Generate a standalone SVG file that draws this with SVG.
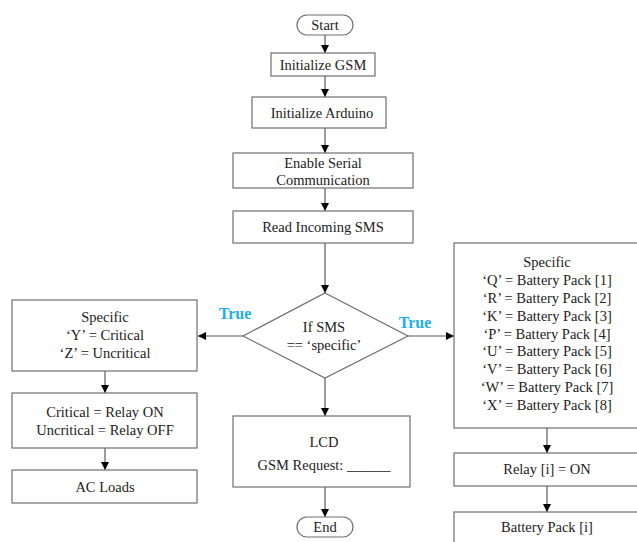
<svg xmlns="http://www.w3.org/2000/svg" width="637" height="542" viewBox="0 0 637 542">
<style>
.box{fill:#fff;stroke:#6e6e6e;stroke-width:1.2}
.t{font-family:'Liberation Serif','DejaVu Serif',serif;font-size:14.5px;fill:#222;text-anchor:middle;dominant-baseline:central}
.lbl{font-family:'Liberation Serif','DejaVu Serif',serif;font-size:16px;font-weight:bold;fill:#1AAEEF;text-anchor:middle;dominant-baseline:central}
.c{stroke:#5a5a5a;stroke-width:1.2;fill:none;marker-end:url(#ah)}
</style>
<defs>
<marker id="ah" markerWidth="10" markerHeight="10" refX="9" refY="5" orient="auto" markerUnits="userSpaceOnUse">
<path d="M1,1 L9,5 L1,9 Z" fill="#000"/>
</marker>
</defs>
<rect width="637" height="542" fill="#fff"/>
<g id="connectors">
<line class="c" x1="325" y1="35" x2="325" y2="53"/>
<line class="c" x1="325" y1="76" x2="325" y2="97"/>
<line class="c" x1="325" y1="128" x2="325" y2="153"/>
<line class="c" x1="325" y1="188" x2="325" y2="211"/>
<line class="c" x1="325" y1="243" x2="325" y2="293"/>
<line class="c" x1="243" y1="336" x2="198" y2="336"/>
<line class="c" x1="408" y1="336" x2="454" y2="336"/>
<line class="c" x1="325" y1="378" x2="325" y2="416"/>
<line class="c" x1="325" y1="487" x2="325" y2="517"/>
<line class="c" x1="105" y1="371" x2="105" y2="393"/>
<line class="c" x1="105" y1="448" x2="105" y2="470"/>
<line class="c" x1="547" y1="428" x2="547" y2="453"/>
<line class="c" x1="547" y1="486" x2="547" y2="512"/>
<text class="lbl" x="235" y="313" font-family="Liberation Serif">True</text>
<text class="lbl" x="415" y="322" font-family="Liberation Serif">True</text>
</g>
<g id="start">
<rect class="box" x="297" y="15" width="56" height="20" rx="10"/>
<text class="t" x="325" y="25">Start</text>
</g>
<g id="initGSM">
<rect class="box" x="271" y="53" width="104" height="23"/>
<text class="t" x="323" y="64.5">Initialize GSM</text>
</g>
<g id="initArduino">
<rect class="box" x="252" y="97" width="134" height="31"/>
<text class="t" x="322" y="112.5">Initialize Arduino</text>
</g>
<g id="serial">
<rect class="box" x="233" y="153" width="180" height="35"/>
<text class="t" x="323" y="163">Enable Serial</text>
<text class="t" x="323" y="180">Communication</text>
</g>
<g id="readSMS">
<rect class="box" x="233" y="211" width="180" height="32"/>
<text class="t" x="323" y="227">Read Incoming SMS</text>
</g>
<g id="decision">
<polygon class="box" points="325,293 408,336 325,378 243,336"/>
<text class="t" x="324" y="327">If SMS</text>
<text class="t" x="324" y="345">== ‘specific’</text>
</g>
<g id="leftSpecific">
<rect class="box" x="12" y="300" width="185" height="71"/>
<text class="t" x="105" y="317">Specific</text>
<text class="t" x="105" y="335">‘Y’ = Critical</text>
<text class="t" x="105" y="353">‘Z’ = Uncritical</text>
</g>
<g id="relayState">
<rect class="box" x="12" y="393" width="185" height="55"/>
<text class="t" x="105" y="412">Critical = Relay ON</text>
<text class="t" x="105" y="430">Uncritical = Relay OFF</text>
</g>
<g id="acLoads">
<rect class="box" x="12" y="470" width="185" height="33"/>
<text class="t" x="105" y="487">AC Loads</text>
</g>
<g id="lcd">
<rect class="box" x="233" y="416" width="177" height="71"/>
<text class="t" x="324" y="442">LCD</text>
<text class="t" x="324" y="465">GSM Request: ______</text>
</g>
<g id="end">
<rect class="box" x="297" y="517" width="56" height="20" rx="10"/>
<text class="t" x="325" y="527">End</text>
</g>
<g id="rightSpecific">
<rect class="box" x="454" y="243" width="200" height="185"/>
<text class="t" x="547" y="262">Specific</text>
<text class="t" x="547" y="280">‘Q’ = Battery Pack [1]</text>
<text class="t" x="547" y="298">‘R’ = Battery Pack [2]</text>
<text class="t" x="547" y="316">‘K’ = Battery Pack [3]</text>
<text class="t" x="547" y="334">‘P’ = Battery Pack [4]</text>
<text class="t" x="547" y="351">‘U’ = Battery Pack [5]</text>
<text class="t" x="547" y="369">‘V’ = Battery Pack [6]</text>
<text class="t" x="547" y="387">‘W’ = Battery Pack [7]</text>
<text class="t" x="547" y="405">‘X’ = Battery Pack [8]</text>
</g>
<g id="relayOn">
<rect class="box" x="454" y="453" width="200" height="33"/>
<text class="t" x="547" y="469">Relay [i] = ON</text>
</g>
<g id="batteryPack">
<rect class="box" x="454" y="512" width="200" height="40"/>
<text class="t" x="547" y="527">Battery Pack [i]</text>
</g>
</svg>
